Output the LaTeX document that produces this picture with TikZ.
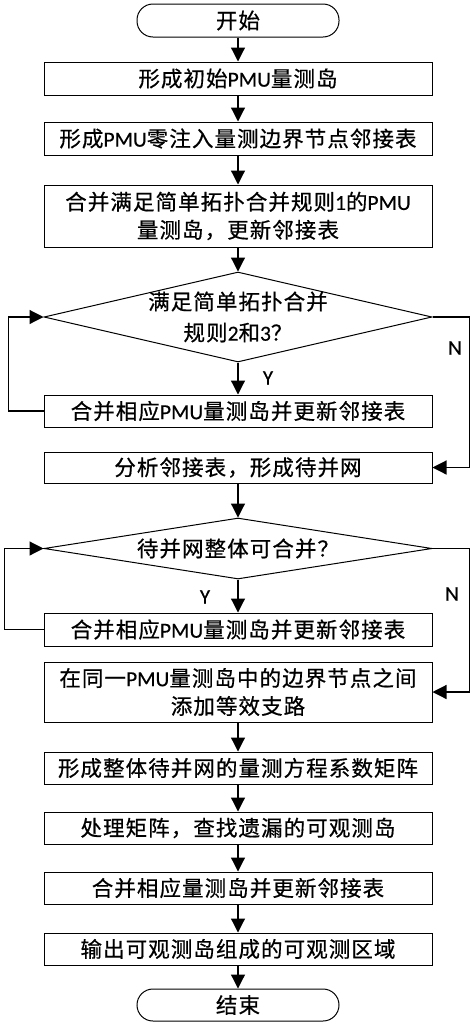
\documentclass[tikz,border=0pt]{standalone}
\usepackage{fontspec}
\setmainfont{Noto Sans CJK SC}[LetterSpace=5, FakeBold=0.6]
\newfontfamily\latfont{Carlito}[FakeBold=0.4]
\newcommand{\lat}[1]{{\latfont #1}}
\usepackage{tikz}
\usetikzlibrary{shapes.geometric, arrows.meta, positioning}
\tikzset{
  procbox/.style={draw, line width=1pt, minimum width=388pt, minimum height=33pt,
    inner sep=0pt, align=center, font=\fontsize{21.5}{28}\selectfont},
  termbox/.style={draw, line width=1pt, rounded corners=16pt, minimum width=202pt,
    minimum height=33pt, inner sep=0pt, font=\fontsize{21.5}{28}\selectfont},
  decbox/.style={draw, diamond, line width=1pt, minimum width=388pt, inner sep=0pt},
  dectext/.style={align=center, inner sep=0pt, font=\fontsize{21.5}{31}\selectfont},
  flow/.style={line width=1.2pt, -{Triangle[length=14pt, width=14pt]}},
  yn/.style={inner sep=0pt, font=\latfont\fontsize{21}{24}\selectfont}
}
\begin{document}
\begin{tikzpicture}[x=1pt, y=-1pt]
    \useasboundingbox (0,0) rectangle (474,1026);
    \node[termbox] (start) at (238,20.5) {开始};
    \node[procbox] (b1) at (238,78.5) {形成初始\lat{PMU}量测岛};
    \node[procbox] (b2) at (238,138.5) {形成\lat{PMU}零注入量测边界节点邻接表};
    \node[procbox, minimum height=62pt] (b3) at (238,216)
      {合并满足简单拓扑合并规则\lat{1}的\lat{PMU}\\量测岛，更新邻接表};
    \node[decbox, minimum height=90pt] (d1) at (238,317) {};
    \node[dectext] (d1text) at (d1.center) {满足简单拓扑合并\\规则\lat{2}和\lat{3}？};
    \node[procbox, minimum height=32pt] (b4) at (238,411) {合并相应\lat{PMU}量测岛并更新邻接表};
    \node[procbox, minimum height=31pt] (b5) at (238,467.5) {分析邻接表，形成待并网};
    \node[decbox, minimum height=61pt] (d2) at (238,548.5) {};
    \node[dectext] (d2text) at (d2.center) {待并网整体可合并？};
    \node[procbox] (b6) at (238,629.5) {合并相应\lat{PMU}量测岛并更新邻接表};
    \node[procbox, minimum height=60pt] (b7) at (238,692)
      {在同一\lat{PMU}量测岛中的边界节点之间\\添加等效支路};
    \node[procbox, minimum height=32pt] (b8) at (238,768) {形成整体待并网的量测方程系数矩阵};
    \node[procbox, minimum height=32pt] (b9) at (238,828) {处理矩阵，查找遗漏的可观测岛};
    \node[procbox, minimum height=32pt] (b10) at (238,888) {合并相应量测岛并更新邻接表};
    \node[procbox, minimum height=32pt] (b11) at (238,949) {输出可观测岛组成的可观测区域};
    \node[termbox, minimum height=32pt] (end) at (238,1005) {结束};

    \draw[flow] (start) -- (b1);
    \draw[flow] (b1) -- (b2);
    \draw[flow] (b2) -- (b3);
    \draw[flow] (b3) -- (d1);
    \draw[flow] (d1.south) -- (b4);
    \draw[flow] (b4.west) -- ++(-35,0) |- (d1.west);
    \draw[flow] (d1.east) -- ++(37,0) |- (b5.east);
    \draw[flow] (b5) -- (d2);
    \draw[flow] (d2.south) -- (b6);
    \draw[flow] (b6.west) -- ++(-39,0) |- (d2.west);
    \draw[flow] (d2.east) -- ++(37,0) |- (b7.east);
    \draw[flow] (b7) -- (b8);
    \draw[flow] (b8) -- (b9);
    \draw[flow] (b9) -- (b10);
    \draw[flow] (b10) -- (b11);
    \draw[flow] (b11) -- (end);

    \node[yn] (y1) at (268,378) {Y};
    \node[yn] (n1) at (455,348) {N};
    \node[yn] (y2) at (205,597) {Y};
    \node[yn] (n2) at (452,594) {N};
  \end{tikzpicture}
\end{document}
